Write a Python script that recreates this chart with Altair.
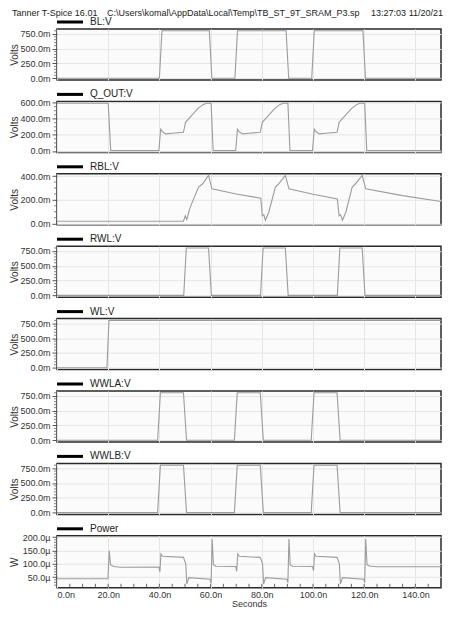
import altair as alt
import pandas as pd

FONT = "Liberation Sans"

# ---------------- data (time in ns, voltages in mV, power in uW) ----------------
T_BL = [0, 40, 41, 59.5, 60.5, 69.5, 70.5, 89.5, 90.5, 99.5, 100.5, 119.5, 120.5, 150]
V_BL = [0, 0, 800, 800, 0, 0, 800, 800, 0, 0, 800, 800, 0, 0]

T_Q = [0, 20, 21,
       39.8, 40.5, 41.2, 42.5, 45, 49.4, 50.2, 51.3, 53, 55, 57, 58.3, 60.2, 61,
       69.8, 70.5, 71.2, 72.5, 75, 79.4, 80.2, 81.3, 83, 85, 87, 88.3, 90.2, 91,
       99.8, 100.5, 101.2, 102.5, 105, 109.4, 110.2, 111.3, 113, 115, 117, 118.3, 120.2, 121,
       150]
V_Q = [592, 592, 5,
       5, 272, 238, 212, 220, 232, 355, 395, 455, 525, 575, 592, 592, 5,
       5, 272, 238, 212, 220, 232, 355, 395, 455, 525, 575, 592, 592, 5,
       5, 272, 238, 212, 220, 232, 355, 395, 455, 525, 575, 592, 592, 5,
       5]

T_RBL = [0, 49.4, 50.1, 50.7, 52, 55.3, 56.9, 59.2, 60.5,
         70, 79.6, 80.2, 80.8, 81.4, 82.7, 85.3, 86.6, 89.2, 90.6,
         100, 109.5, 110.2, 110.8, 111.5, 112.8, 115.3, 116.6, 119.2, 120.6,
         135, 150]
V_RBL = [20, 20, 66, 35, 137, 308, 336, 407, 293,
         250, 214, 66, 74, 28, 94, 308, 336, 407, 293,
         248, 208, 66, 74, 28, 94, 308, 336, 407, 293,
         236, 186]

T_RWL = [0, 49.5, 50.5, 59.2, 60.3, 79.5, 80.5, 89.2, 90.3, 109.5, 110.5, 119.2, 120.3, 150]
V_RWL = [0, 0, 800, 800, 0, 0, 800, 800, 0, 0, 800, 800, 0, 0]

T_WL = [0, 19.5, 20.3, 150]
V_WL = [0, 0, 800, 800]

T_WWLA = [0, 39.3, 40.4, 49.4, 50.6, 69.3, 70.4, 79.4, 80.6, 99.3, 100.4, 109.4, 110.6, 150]
V_WWLA = [0, 0, 800, 800, 0, 0, 800, 800, 0, 0, 800, 800, 0, 0]

T_WWLB = [0, 39.3, 40.4, 49.4, 50.6, 69.3, 70.4, 79.4, 80.6, 99.3, 100.4, 109.4, 110.6, 150]
V_WWLB = [0, 0, 800, 800, 0, 0, 800, 800, 0, 0, 800, 800, 0, 0]

T_PWR = [0, 19.9, 20.4, 20.9, 22, 25,
         39.8, 40.2, 40.6, 41.2,
         49.4, 50.0, 50.3, 50.7, 51.5,
         59.8, 60.2, 60.6, 61.1, 62,
         69.8, 70.2, 70.6, 71.2,
         79.4, 80.0, 80.3, 80.7, 81.5,
         89.8, 90.2, 90.6, 91.1, 92,
         99.8, 100.2, 100.6, 101.2,
         109.4, 110.0, 110.3, 110.7, 111.5,
         119.8, 120.2, 120.6, 121.1, 122, 125, 150]
V_PWR = [44, 44, 150, 97, 90, 87,
         88, 70, 137, 128,
         124, 108, 100, 24, 48,
         42, 27, 193, 97, 91,
         90, 72, 137, 128,
         124, 108, 100, 24, 48,
         42, 30, 193, 97, 91,
         90, 74, 137, 128,
         124, 108, 100, 24, 48,
         42, 30, 193, 97, 92, 89, 89]

# axis values
X_LABELS = [0, 20, 40, 60, 80, 100, 120, 140]
X_MINOR = [5, 10, 15, 20, 25, 30, 35, 40, 45, 50, 55, 60, 65, 70, 75, 80, 85, 90,
           95, 100, 105, 110, 115, 120, 125, 130, 135, 140, 145]
Y_VOLT = [0, 250, 500, 750]
Y_VOLT_MINOR = [50, 100, 150, 200, 300, 350, 400, 450, 550, 600, 650, 700, 800]
Y_Q = [0, 200, 400, 600]
Y_Q_MINOR = [50, 100, 150, 250, 300, 350, 450, 500, 550]
Y_RBL = [0, 200, 400]
Y_RBL_MINOR = [50, 100, 150, 250, 300, 350]
Y_PWR = [50, 100, 150, 200]
Y_PWR_MINOR = [20, 30, 40, 60, 70, 80, 90, 110, 120, 130, 140, 160, 170, 180, 190]

HEADER = ["Tanner T-Spice 16.01",
          "C:\\Users\\komal\\AppData\\Local\\Temp\\TB_ST_9T_SRAM_P3.sp",
          "13:27:03 11/20/21"]
HEADER_X = [-45, 50, 386]
HEADER_ALIGN = ["left", "left", "right"]

W = 384
H = 51
H_LAST = 52


def panel(t, v, name, ytitle, domain, yvals, yminor, suffix, height,
          bottom=False, header=False):
    df = pd.DataFrame({"t": t, "v": v})
    xscale = alt.Scale(domain=[0, 150], nice=False, zero=False)
    yscale = alt.Scale(domain=domain, nice=False, zero=False)
    if bottom:
        xaxis = alt.Axis(values=X_LABELS,
                         labelExpr="format(datum.value, '.1f') + 'n'",
                         ticks=False, domain=False, grid=True,
                         labelPadding=3, title="Seconds", titlePadding=0,
                         titleFontSize=9)
    else:
        xaxis = alt.Axis(values=X_LABELS, labels=False, ticks=False,
                         domain=False, grid=True, title=None)
    yaxis = alt.Axis(values=yvals,
                     labelExpr="format(datum.value, '.1f') + '" + suffix + "'",
                     title=ytitle, grid=True, domain=False, tickSize=5,
                     labelPadding=2, minExtent=34, maxExtent=34, titlePadding=4)
    line = alt.Chart(df).mark_line(color="#9c9c9c", strokeWidth=1.1).encode(
        x=alt.X("t:Q", scale=xscale, axis=xaxis),
        y=alt.Y("v:Q", scale=yscale, axis=yaxis),
    )
    minor = alt.Chart(pd.DataFrame({"v": yminor})).mark_rule(
        color="#666", strokeWidth=0.8).encode(
        x=alt.value(-3), x2=alt.value(0),
        y=alt.Y("v:Q", scale=yscale, axis=yaxis),
    )
    lab = pd.DataFrame({"label": [name]})
    swatch = alt.Chart(lab).mark_rule(color="black", strokeWidth=3).encode(
        x=alt.value(0), x2=alt.value(26), y=alt.value(-7))
    text = alt.Chart(lab).mark_text(
        align="left", baseline="middle", fontSize=10, color="#222", font=FONT
    ).encode(x=alt.value(33), y=alt.value(-7), text="label:N")
    layers = [line, minor, swatch, text]
    if bottom:
        xt = alt.Chart(pd.DataFrame({"t": X_MINOR})).mark_rule(
            color="#444", strokeWidth=0.8).encode(
            x=alt.X("t:Q", scale=xscale, axis=xaxis),
            y=alt.value(height), y2=alt.value(height - 4))
        layers.append(xt)
    if header:
        for s, xp, al in zip(HEADER, HEADER_X, HEADER_ALIGN):
            layers.append(
                alt.Chart(pd.DataFrame({"h": [s]})).mark_text(
                    align=al, baseline="top", fontSize=9, color="#222",
                    font=FONT).encode(x=alt.value(xp), y=alt.value(-20),
                                      text="h:N"))
    return alt.layer(*layers).properties(width=W, height=height)


VOLT_DOM = [-30, 830]
panels = [
    panel(T_BL, V_BL, "BL:V", "Volts", VOLT_DOM, Y_VOLT, Y_VOLT_MINOR, "m", H, header=True),
    panel(T_Q, V_Q, "Q_OUT:V", "Volts", [-18, 615], Y_Q, Y_Q_MINOR, "m", H),
    panel(T_RBL, V_RBL, "RBL:V", "Volts", [-10, 420], Y_RBL, Y_RBL_MINOR, "m", H),
    panel(T_RWL, V_RWL, "RWL:V", "Volts", VOLT_DOM, Y_VOLT, Y_VOLT_MINOR, "m", H),
    panel(T_WL, V_WL, "WL:V", "Volts", VOLT_DOM, Y_VOLT, Y_VOLT_MINOR, "m", H),
    panel(T_WWLA, V_WWLA, "WWLA:V", "Volts", VOLT_DOM, Y_VOLT, Y_VOLT_MINOR, "m", H),
    panel(T_WWLB, V_WWLB, "WWLB:V", "Volts", VOLT_DOM, Y_VOLT, Y_VOLT_MINOR, "m", H),
    panel(T_PWR, V_PWR, "Power", "W", [10, 205], Y_PWR, Y_PWR_MINOR, "µ", H_LAST, bottom=True),
]

chart = alt.vconcat(*panels, spacing=21.4, bounds="flush").properties(
    padding=0
).configure_view(
    stroke="#2a2a2a", strokeWidth=1.5, fill="#fbfbfb"
).configure_axis(
    labelFont=FONT, titleFont=FONT, labelFontSize=9, titleFontSize=10,
    titleFontWeight="normal", labelColor="#333", titleColor="#333",
    gridColor="#e6e6e6", gridWidth=1, tickColor="#555"
)

chart.save("out.html", embed_options={"renderer": "svg", "actions": False})
